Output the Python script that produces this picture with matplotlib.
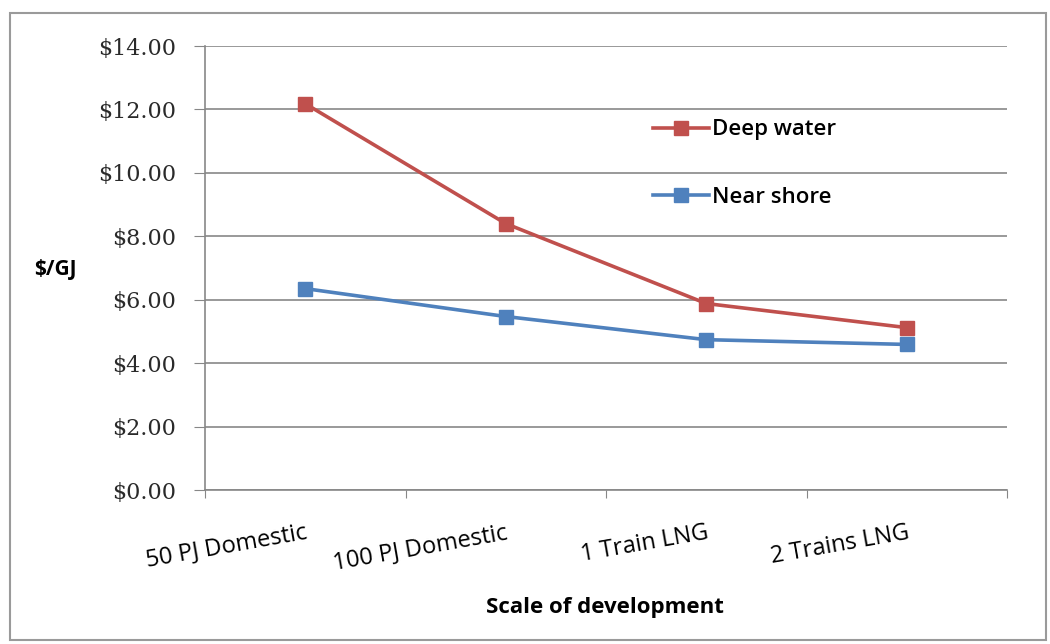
import matplotlib
matplotlib.use("Agg")
import matplotlib.pyplot as plt
from matplotlib.patches import Rectangle

# values
categories = ["50 PJ Domestic", "100 PJ Domestic", "1 Train LNG", "2 Trains LNG"]
deep_water = [12.18, 8.40, 5.88, 5.12]
near_shore = [6.35, 5.47, 4.74, 4.59]
yticks = [0, 2, 4, 6, 8, 10, 12, 14]

RED = "#C0504D"
BLUE = "#4F81BD"
GRID = "#878787"

sans = ["Open Sans", "DejaVu Sans"]
serif = ["DejaVu Serif"]

fig = plt.figure(figsize=(10.5, 6.44), dpi=100)
fig.patches.append(Rectangle((10/1050, 4/644), 1036/1050, 627/644,
                             transform=fig.transFigure, fill=False,
                             edgecolor="#9a9a9a", lw=1.5))

ax = fig.add_axes([205/1050, 1 - 490/644, 802/1050, 444/644])
x = list(range(len(categories)))
ax.plot(x, deep_water, color=RED, lw=2.6, marker="s", ms=10, label="Deep water")
ax.plot(x, near_shore, color=BLUE, lw=2.6, marker="s", ms=10, label="Near shore")

ax.set_xlim(-0.5, 3.5)
ax.set_ylim(0, 14)
ax.set_yticks(yticks)
ax.set_yticklabels(["${:.2f}".format(v) for v in yticks], family=serif,
                   fontsize=16, color="#2a2a2a")
ax.yaxis.grid(True, color=GRID, lw=1.2)
ax.set_axisbelow(True)

# category ticks sit on interval edges, labels in the middle
ax.set_xticks([-0.5, 0.5, 1.5, 2.5, 3.5])
ax.set_xticklabels([])
ax.set_xticks(x, minor=True)
ax.set_xticklabels(categories, minor=True, rotation=10, ha="right",
                   rotation_mode="anchor", family=sans, fontsize=17)
ax.tick_params(axis="x", which="minor", length=0, pad=22)
ax.tick_params(axis="x", which="major", length=6, color=GRID, direction="out")
ax.tick_params(axis="y", length=8, color=GRID, pad=13)

for s in ["top", "right"]:
    ax.spines[s].set_visible(False)
for s in ["left", "bottom"]:
    ax.spines[s].set_color(GRID)
    ax.spines[s].set_linewidth(1.2)

fig.text(55/1050, 1 - 270/644, "$/GJ", fontsize=15, fontweight="bold",
         family=sans, ha="center", va="center")
fig.text(605/1050, 1 - 607/644, "Scale of development", fontsize=16,
         fontweight="bold", family=sans, ha="center", va="center")

ax.legend(loc="upper left", bbox_to_anchor=(0.534, 0.88), frameon=False,
          prop={"family": sans, "size": 16, "weight": "semibold"},
          labelspacing=2.1, handlelength=2.5, handletextpad=0.15)

fig.savefig("out.png", dpi=100, facecolor="white")
